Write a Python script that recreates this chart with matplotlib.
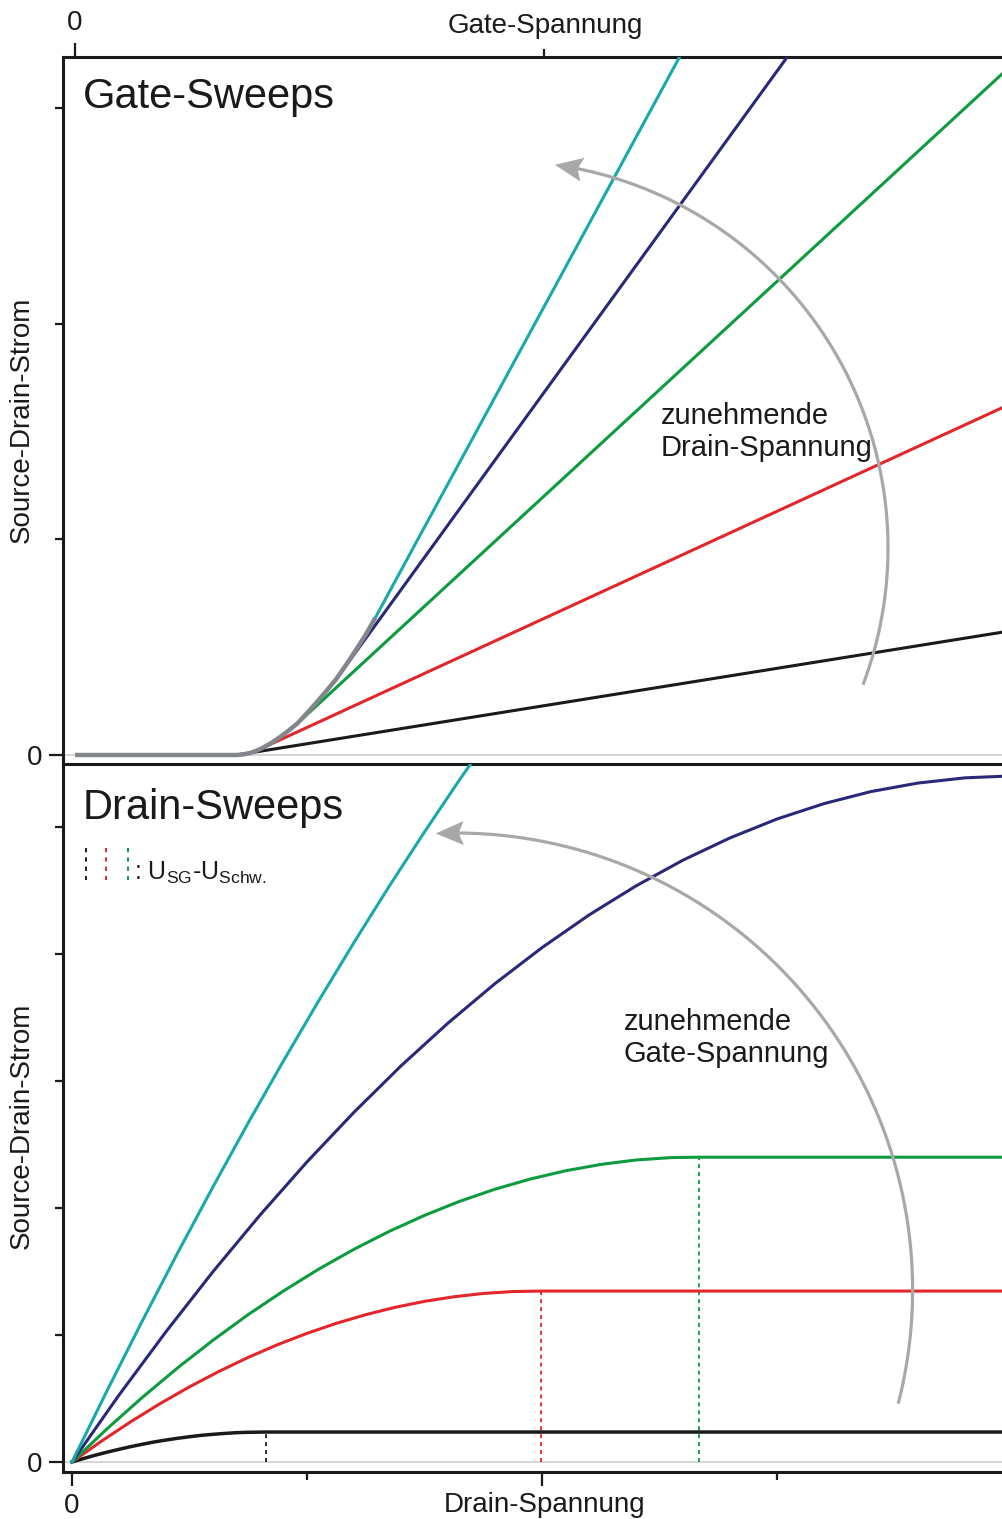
import matplotlib
matplotlib.use('Agg')
import matplotlib.pyplot as plt
import matplotlib.transforms as mtransforms
from matplotlib.patches import Polygon
from matplotlib.lines import Line2D
import numpy as np

plt.rcParams['font.family'] = ['Liberation Sans', 'DejaVu Sans']
plt.rcParams['mathtext.fontset'] = 'custom'
plt.rcParams['mathtext.rm'] = 'Liberation Sans'
plt.rcParams['mathtext.sf'] = 'Liberation Sans'

W, H = 1003, 1519

# ---------------- data: gate sweeps (top panel) ----------------
gate_env_x = [0.0, 0.345, 0.359, 0.373, 0.386, 0.399, 0.418, 0.437, 0.456, 0.475,
              0.495, 0.516, 0.536, 0.557, 0.578, 0.599, 0.620, 0.640]
gate_env_y = [0.0, 0.0, 0.003, 0.009, 0.019, 0.032, 0.055, 0.083, 0.114, 0.148,
              0.195, 0.246, 0.297, 0.352, 0.418, 0.487, 0.558, 0.635]
gate_black_x = [0.345, 1.979]
gate_black_y = [0.0, 0.570]
gate_red_x = [0.399, 1.979]
gate_red_y = [0.032, 1.612]
gate_green_x = [0.475, 1.979]
gate_green_y = [0.148, 3.162]
gate_navy_x = [0.557, 1.530]
gate_navy_y = [0.352, 3.270]
gate_teal_x = [0.640, 1.300]
gate_teal_y = [0.635, 3.280]
gate_xticks_major = [0]
gate_xticks_minor = [1]
gate_yticks_major = [0]
gate_yticks_minor = [1, 2, 3]

# ---------------- data: drain sweeps (bottom panel) ----------------
drain_black_x = [0, 0.05, 0.1, 0.15, 0.2, 0.25, 0.3, 0.35, 0.4, 0.45, 0.5, 0.55,
                 0.6, 0.65, 0.7, 0.75, 0.826, 3.97]
drain_black_y = [0, 0.028, 0.054, 0.078, 0.100, 0.121, 0.140, 0.158, 0.173, 0.187,
                 0.199, 0.210, 0.218, 0.225, 0.231, 0.234, 0.236, 0.236]
drain_red_x = [0, 0.125, 0.25, 0.375, 0.5, 0.625, 0.75, 0.875, 1.0, 1.125, 1.25,
               1.375, 1.5, 1.625, 1.75, 1.875, 1.996, 3.97]
drain_red_y = [0, 0.164, 0.317, 0.460, 0.592, 0.713, 0.824, 0.924, 1.013, 1.092,
               1.160, 1.218, 1.265, 1.301, 1.327, 1.342, 1.346, 1.346]
drain_green_x = [0, 0.15, 0.3, 0.45, 0.6, 0.75, 0.9, 1.05, 1.2, 1.35, 1.5, 1.65,
                 1.8, 1.95, 2.1, 2.25, 2.4, 2.55, 2.668, 3.97]
drain_green_y = [0, 0.263, 0.510, 0.742, 0.959, 1.161, 1.347, 1.519, 1.675, 1.816,
                 1.942, 2.053, 2.148, 2.228, 2.293, 2.343, 2.378, 2.397, 2.400, 2.400]
drain_navy_x = [0, 0.2, 0.4, 0.6, 0.8, 1.0, 1.2, 1.4, 1.6, 1.8, 2.0, 2.2, 2.4,
                2.6, 2.8, 3.0, 3.2, 3.4, 3.6, 3.8, 3.97]
drain_navy_y = [0, 0.527, 1.026, 1.499, 1.944, 2.363, 2.754, 3.119, 3.456, 3.767,
                4.050, 4.307, 4.536, 4.739, 4.914, 5.063, 5.184, 5.279, 5.346, 5.387, 5.400]
drain_teal_x = [0, 0.15, 0.3, 0.45, 0.6, 0.75, 0.9, 1.05, 1.2, 1.35, 1.5, 1.65, 1.8]
drain_teal_y = [0, 0.565, 1.114, 1.648, 2.167, 2.671, 3.159, 3.632, 4.091, 4.534,
                4.961, 5.374, 5.771]
sat_x = [0.826, 1.996, 2.668]
sat_y = [0.236, 1.346, 2.400]
sat_colors = ['#1a1a1a', '#e2262b', '#0c9c3e']
drain_xticks_major = [0, 2]
drain_xticks_minor = [1, 3]
drain_yticks_major = [0]
drain_yticks_minor = [1, 2, 3, 4, 5]

C_BLACK = '#1a1a1a'
C_RED = '#e2262b'
C_GREEN = '#0c9c3e'
C_NAVY = '#2a2878'
C_TEAL = '#1aa9aa'
C_ENV = '#83878b'
C_ARROW = '#a8a8a8'
C_ZERO = '#d2d2d2'
TXT = '#1a1a1a'

fig = plt.figure(figsize=(W / 100, H / 100), dpi=100)
pix = mtransforms.Affine2D().scale(1 / W, 1 / H) + fig.transFigure


def Y(y):
    return H - y


def style_axes(ax):
    for s in ax.spines.values():
        s.set_linewidth(2.2)
        s.set_color(C_BLACK)
    ax.spines['right'].set_visible(False)
    ax.tick_params(which='major', length=10, width=1.6, direction='out',
                   labelsize=20, color=C_BLACK, labelcolor=TXT, pad=5)
    ax.tick_params(which='minor', length=6, width=1.6, direction='out', color=C_BLACK)
    ax.set_facecolor('none')


# ---------------- top panel ----------------
ax1 = fig.add_axes([63 / W, 1 - 764 / H, 940 / W, 707 / H])
style_axes(ax1)
ax1.set_xlim(-0.0256, 1.9787)
ax1.set_ylim(-0.0417, 3.236)
ax1.xaxis.tick_top()
ax1.set_xticks(gate_xticks_major)
ax1.set_xticks(gate_xticks_minor, minor=True)
ax1.set_xticklabels(['0'])
ax1.set_yticks(gate_yticks_major)
ax1.set_yticks(gate_yticks_minor, minor=True)
ax1.set_yticklabels(['0'])
ax1.axhline(0, color=C_ZERO, lw=1.3, zorder=1)
lw = 2.2
ax1.plot(gate_black_x, gate_black_y, color=C_BLACK, lw=lw, zorder=3)
ax1.plot(gate_red_x, gate_red_y, color=C_RED, lw=lw, zorder=3)
ax1.plot(gate_green_x, gate_green_y, color=C_GREEN, lw=lw, zorder=3)
ax1.plot(gate_navy_x, gate_navy_y, color=C_NAVY, lw=lw, zorder=3)
ax1.plot(gate_teal_x, gate_teal_y, color=C_TEAL, lw=lw, zorder=3)
ax1.plot(gate_env_x, gate_env_y, color=C_ENV, lw=3.2, zorder=4,
         solid_capstyle='butt', solid_joinstyle='round')

# ---------------- bottom panel ----------------
ax2 = fig.add_axes([63 / W, 1 - 1472 / H, 940 / W, 708 / H])
style_axes(ax2)
ax2.spines['top'].set_visible(False)
ax2.set_xlim(-0.0383, 3.9617)
ax2.set_ylim(-0.0787, 5.496)
ax2.set_xticks(drain_xticks_major)
ax2.set_xticks(drain_xticks_minor, minor=True)
ax2.set_xticklabels(['0', ''])
ax2.set_yticks(drain_yticks_major)
ax2.set_yticks(drain_yticks_minor, minor=True)
ax2.set_yticklabels(['0'])
ax2.axhline(0, color=C_ZERO, lw=1.3, zorder=1)
for x, y, c in zip(sat_x, sat_y, sat_colors):
    ax2.plot([x, x], [0, y], color=c, lw=1.3, ls=(0, (2.2, 2.2)), zorder=2)
ax2.plot(drain_black_x, drain_black_y, color=C_BLACK, lw=2.5, zorder=3,
         solid_joinstyle='round')
ax2.plot(drain_red_x, drain_red_y, color=C_RED, lw=lw, zorder=3, solid_joinstyle='round')
ax2.plot(drain_green_x, drain_green_y, color=C_GREEN, lw=lw, zorder=3, solid_joinstyle='round')
ax2.plot(drain_navy_x, drain_navy_y, color=C_NAVY, lw=lw, zorder=3, solid_joinstyle='round')
ax2.plot(drain_teal_x, drain_teal_y, color=C_TEAL, lw=lw, zorder=3, solid_joinstyle='round')

# ---------------- curved arrows (pixel space of the reference) ----------------
def curved_arrow(cx, cy, r, a0, a1, color=C_ARROW, lw=2.3, L=28, HW=12, N=5):
    cY = Y(cy)
    t1 = np.radians(a1)
    th = np.linspace(np.radians(a0), t1 - (L - N) / r, 300)
    xs = cx + r * np.cos(th)
    ys = cY + r * np.sin(th)
    fig.add_artist(Line2D(xs, ys, transform=pix, color=color, lw=lw,
                          solid_capstyle='butt', zorder=5))
    T = np.array([cx + r * np.cos(t1), cY + r * np.sin(t1)])
    tp = t1 - L / r
    Pp = np.array([cx + r * np.cos(tp), cY + r * np.sin(tp)])
    d = (T - Pp) / np.linalg.norm(T - Pp)
    p = np.array([-d[1], d[0]])
    B = T - L * d
    poly = [T, B + HW * p, T - (L - N) * d, B - HW * p]
    fig.add_artist(Polygon(poly, closed=True, transform=pix, facecolor=color,
                           edgecolor='none', zorder=5))


curved_arrow(501, 548, 387, -20.7, 82.0)
curved_arrow(455.6, 1290, 457, -14.4, 92.5)

# ---------------- texts ----------------
def ftext(x, y, s, **kw):
    kw.setdefault('color', TXT)
    return fig.text(x, Y(y), s, transform=pix, **kw)


ftext(83, 108, 'Gate-Sweeps', fontsize=30, va='baseline', ha='left')
ftext(83, 819, 'Drain-Sweeps', fontsize=30, va='baseline', ha='left')
ftext(661, 424, 'zunehmende', fontsize=21, va='baseline', ha='left')
ftext(661, 456, 'Drain-Spannung', fontsize=21, va='baseline', ha='left')
ftext(624, 1030, 'zunehmende', fontsize=21, va='baseline', ha='left')
ftext(624, 1062, 'Gate-Spannung', fontsize=21, va='baseline', ha='left')
ftext(545, 33, 'Gate-Spannung', fontsize=20, va='baseline', ha='center')
ftext(545, 1512, 'Drain-Spannung', fontsize=20, va='baseline', ha='center')
ftext(22, 420, 'Source-Drain-Strom', fontsize=20, rotation=90, va='center', ha='center')
ftext(22, 1126, 'Source-Drain-Strom', fontsize=20, rotation=90, va='center', ha='center')

# legend keys for the dashed saturation markers
for x, c in zip([86, 106, 128], sat_colors):
    fig.add_artist(Line2D([x, x], [Y(848), Y(880)], transform=pix, color=c,
                          lw=1.4, ls=(0, (2.2, 2.6))))
ftext(134, 880, r': U$_{\mathrm{SG}}$-U$_{\mathrm{Schw.}}$', fontsize=18,
      va='baseline', ha='left')

fig.savefig('out.png', dpi=100)
